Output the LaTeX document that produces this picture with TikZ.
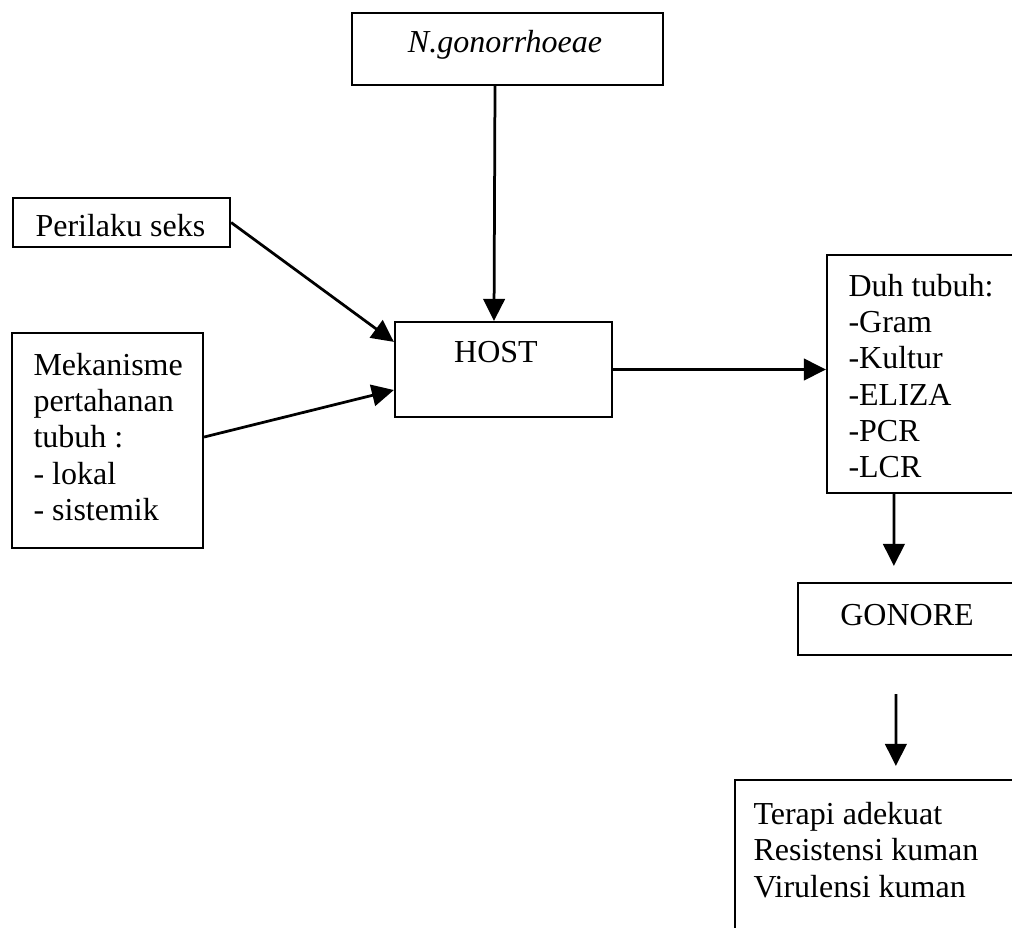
\documentclass[tikz,border=0pt]{standalone}
\usepackage{fontspec}
\setmainfont{Liberation Serif}
\usetikzlibrary{arrows.meta,fit}
\begin{document}
\begin{tikzpicture}[x=0.4pt,y=-0.4pt,
  box/.style={draw, line width=0.9pt, inner sep=0pt},
  txt/.style={inner sep=0pt, font=\fontsize{12.8}{14.5}\selectfont, align=left},
  arr/.style={line width=1.1pt, -{Triangle[length=8.8pt,width=8.6pt]}}]
\useasboundingbox (0,0) rectangle (1012,927);
\clip (0,0) rectangle (1012,927);
\fill[white] (0,0) rectangle (1012,927);
% boxes
\node[box, fit={(352,13) (663,85)}] (ng) {};
\node[box, fit={(13,198) (230,247)}] (per) {};
\node[box, fit={(12,333) (203,548)}] (mek) {};
\node[box, fit={(395,322) (612,417)}] (host) {};
\node[box, fit={(827,255) (1030,493)}] (duh) {};
\node[box, fit={(798,583) (1030,655)}] (gon) {};
\node[box, fit={(735,780) (1030,960)}] (ter) {};
% texts
\node[txt, font=\fontsize{12.8}{14.5}\selectfont\itshape] (ngt) at (505,45) {N.gonorrhoeae};
\node[txt, anchor=west] (pert) at (35,226) {Perilaku seks};
\node[txt, anchor=west] (mekt) at (33,437) {Mekanisme\\pertahanan\\tubuh :\\- lokal\\- sistemik};
\node[txt] (hostt) at (496,352) {HOST};
\node[txt, anchor=west] (duht) at (848,376) {Duh tubuh:\\-Gram\\-Kultur\\-ELIZA\\-PCR\\-LCR};
\node[txt] (gont) at (907,615) {GONORE};
\node[txt, anchor=west] (tert) at (753,850) {Terapi adekuat\\Resistensi kuman\\Virulensi kuman};
% connectors
\draw[arr] ([xshift=-5pt]ng.south) -- ([xshift=-3.8pt]host.north);
\draw[arr] (per.east) -- ([yshift=-8.4pt]host.north west);
\draw[arr] ([yshift=1.4pt]mek.east) -- ([yshift=-8.2pt]host.west);
\draw[arr] (host.east) -- (host.east -| duh.west);
\draw[arr] ([xshift=27.2pt]duh.south west) -- ([xshift=38.8pt,yshift=6.4pt]gon.north west);
\draw[arr] ([xshift=39.6pt,yshift=-15.2pt]gon.south west) -- ([xshift=64.8pt,yshift=5.2pt]ter.north west);
\end{tikzpicture}
\end{document}
